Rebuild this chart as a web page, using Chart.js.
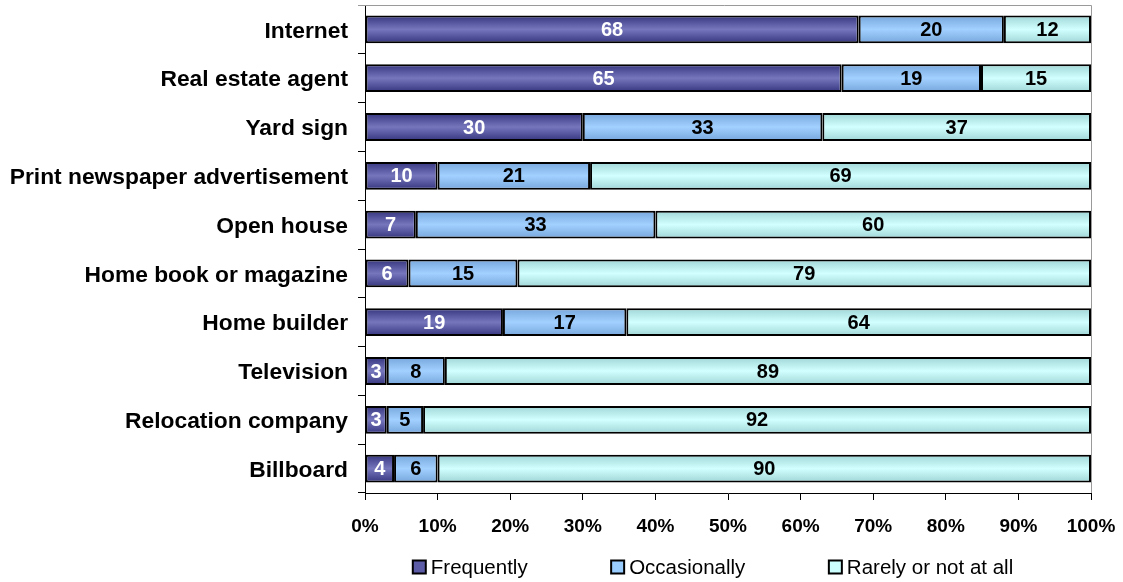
<!DOCTYPE html>
<html>
<head>
<meta charset="utf-8">
<script src="https://cdn.jsdelivr.net/npm/chart.js@4/dist/chart.umd.min.js"></script>
<style>
  html, body { margin: 0; padding: 0; background: #ffffff; }
  #wrap { width: 1123px; height: 582px; position: relative; }
</style>
</head>
<body>
<div id="wrap"><canvas id="chart" width="1123" height="582"></canvas></div>
<script>
// Sources of information used when searching for a home (% of buyers)
const categories = [
  'Internet',
  'Real estate agent',
  'Yard sign',
  'Print newspaper advertisement',
  'Open house',
  'Home book or magazine',
  'Home builder',
  'Television',
  'Relocation company',
  'Billboard'
];
const frequently   = [68, 65, 30, 10, 7, 6, 19, 3, 3, 4];
const occasionally = [20, 19, 33, 21, 33, 15, 17, 8, 5, 6];
const rarely       = [12, 15, 37, 69, 60, 79, 64, 89, 92, 90];
const seriesNames  = ['Frequently', 'Occasionally', 'Rarely or not at all'];
const xTickValues  = [0, 10, 20, 30, 40, 50, 60, 70, 80, 90, 100];

const FONT = '"Liberation Sans", Arial, Helvetica, sans-serif';
const BAR_PCT = 0.57;

// edge / centre / flat colours for each series' shaded bars
const palette = [
  { edge: '#35357f', mid: '#7676bd', flat: '#5b5ba6', text: '#ffffff' },
  { edge: '#76a6dc', mid: '#a2d0ff', flat: '#99ccff', text: '#000000' },
  { edge: '#9fd6d6', mid: '#d2ffff', flat: '#ccffff', text: '#000000' }
];

function shadedFill(seriesIdx) {
  return (ctx) => {
    const chart = ctx.chart;
    const y = chart.scales && chart.scales.y;
    if (!chart.chartArea || !y || ctx.type !== 'data') return palette[seriesIdx].flat;
    const c = y.getPixelForValue(ctx.dataIndex);
    const band = Math.abs(y.getPixelForValue(1) - y.getPixelForValue(0));
    const h = band * BAR_PCT / 2;
    const g = chart.ctx.createLinearGradient(0, c - h, 0, c + h);
    g.addColorStop(0, palette[seriesIdx].edge);
    g.addColorStop(0.5, palette[seriesIdx].mid);
    g.addColorStop(1, palette[seriesIdx].edge);
    return g;
  };
}

// 100% stacking: each row is scaled to its own total, labels keep the raw values
const seriesData = [frequently, occasionally, rarely];
const rowTotals = categories.map((_, i) => seriesData.reduce((s, arr) => s + arr[i], 0));

const datasets = seriesData.map((vals, i) => ({
  label: seriesNames[i],
  data: vals.map((v, r) => v / rowTotals[r] * 100),
  rawValues: vals,
  backgroundColor: shadedFill(i),
  borderColor: '#000000',
  borderWidth: 2,
  borderSkipped: false,
  barPercentage: BAR_PCT,
  categoryPercentage: 1.0
}));

// Value labels centred in each segment
const valueLabels = {
  id: 'valueLabels',
  afterDatasetsDraw(chart) {
    const ctx = chart.ctx;
    ctx.save();
    ctx.font = 'bold 20px ' + FONT;
    ctx.textAlign = 'center';
    ctx.textBaseline = 'middle';
    chart.data.datasets.forEach((ds, di) => {
      const meta = chart.getDatasetMeta(di);
      ctx.fillStyle = palette[di].text;
      meta.data.forEach((el, i) => {
        const x = (el.x + el.base) / 2;
        ctx.fillText(String(ds.rawValues[i]), x, el.y + 1);
      });
    });
    ctx.restore();
  }
};

// Thin grey frame along the top and right of the plot area
const plotFrame = {
  id: 'plotFrame',
  beforeDatasetsDraw(chart) {
    const a = chart.chartArea;
    const ctx = chart.ctx;
    ctx.save();
    ctx.strokeStyle = '#9a9a9a';
    ctx.lineWidth = 1;
    ctx.beginPath();
    ctx.moveTo(a.left - 7, a.top + 0.5);
    ctx.lineTo(a.right + 0.5, a.top + 0.5);
    ctx.lineTo(a.right + 0.5, a.bottom);
    ctx.stroke();
    ctx.restore();
  }
};

// Legend row beneath the axis
const bottomLegend = {
  id: 'bottomLegend',
  afterDraw(chart) {
    const ctx = chart.ctx;
    const box = 13, gapText = 5, gapItem = 83.5;
    ctx.save();
    ctx.font = '20.5px ' + FONT;
    ctx.textBaseline = 'middle';
    ctx.textAlign = 'left';
    const widths = seriesNames.map(n => box + gapText + ctx.measureText(n).width);
    const total = widths.reduce((s, w) => s + w, 0) + gapItem * (widths.length - 1);
    const cx = (chart.chartArea.left + chart.chartArea.right) / 2 - 15;
    let x = cx - total / 2;
    const y = 567;
    seriesNames.forEach((n, i) => {
      ctx.fillStyle = palette[i].flat;
      ctx.fillRect(x, y - box / 2, box, box);
      ctx.strokeStyle = '#000000';
      ctx.lineWidth = 2;
      ctx.strokeRect(x, y - box / 2, box, box);
      ctx.fillStyle = '#000000';
      ctx.fillText(n, x + box + gapText, y + 1);
      x += widths[i] + gapItem;
    });
    ctx.restore();
  }
};

new Chart(document.getElementById('chart'), {
  type: 'bar',
  data: { labels: categories, datasets },
  plugins: [valueLabels, plotFrame, bottomLegend],
  options: {
    indexAxis: 'y',
    responsive: false,
    animation: false,
    devicePixelRatio: 1,
    layout: { padding: { left: 0, top: 5, right: 32, bottom: 39 } },
    plugins: {
      legend: { display: false },
      tooltip: { enabled: false }
    },
    scales: {
      x: {
        stacked: true,
        min: 0,
        max: 100,
        afterBuildTicks: (scale) => { scale.ticks = xTickValues.map(v => ({ value: v })); },
        afterFit: (scale) => {
          scale.height = 50;
          scale.paddingLeft = 0;
          scale.paddingRight = 0;
        },
        ticks: {
          color: '#000000',
          font: { family: FONT, size: 19, weight: 'bold' },
          padding: 15,
          maxRotation: 0,
          callback: (v) => v + '%'
        },
        grid: { drawOnChartArea: false, tickLength: 7, color: '#000000', lineWidth: 1 },
        border: { display: true, color: '#000000', width: 1 }
      },
      y: {
        stacked: true,
        afterFit: (scale) => {
          scale.width = 365;
          scale.paddingTop = 0;
          scale.paddingBottom = 0;
        },
        ticks: {
          color: '#000000',
          font: { family: FONT, size: 22.8, weight: 'bold' },
          padding: 10,
          labelOffset: 2
        },
        grid: { drawOnChartArea: false, offset: true, tickLength: 7, color: '#000000', lineWidth: 1 },
        border: { display: true, color: '#000000', width: 1 }
      }
    }
  }
});
</script>
</body>
</html>
